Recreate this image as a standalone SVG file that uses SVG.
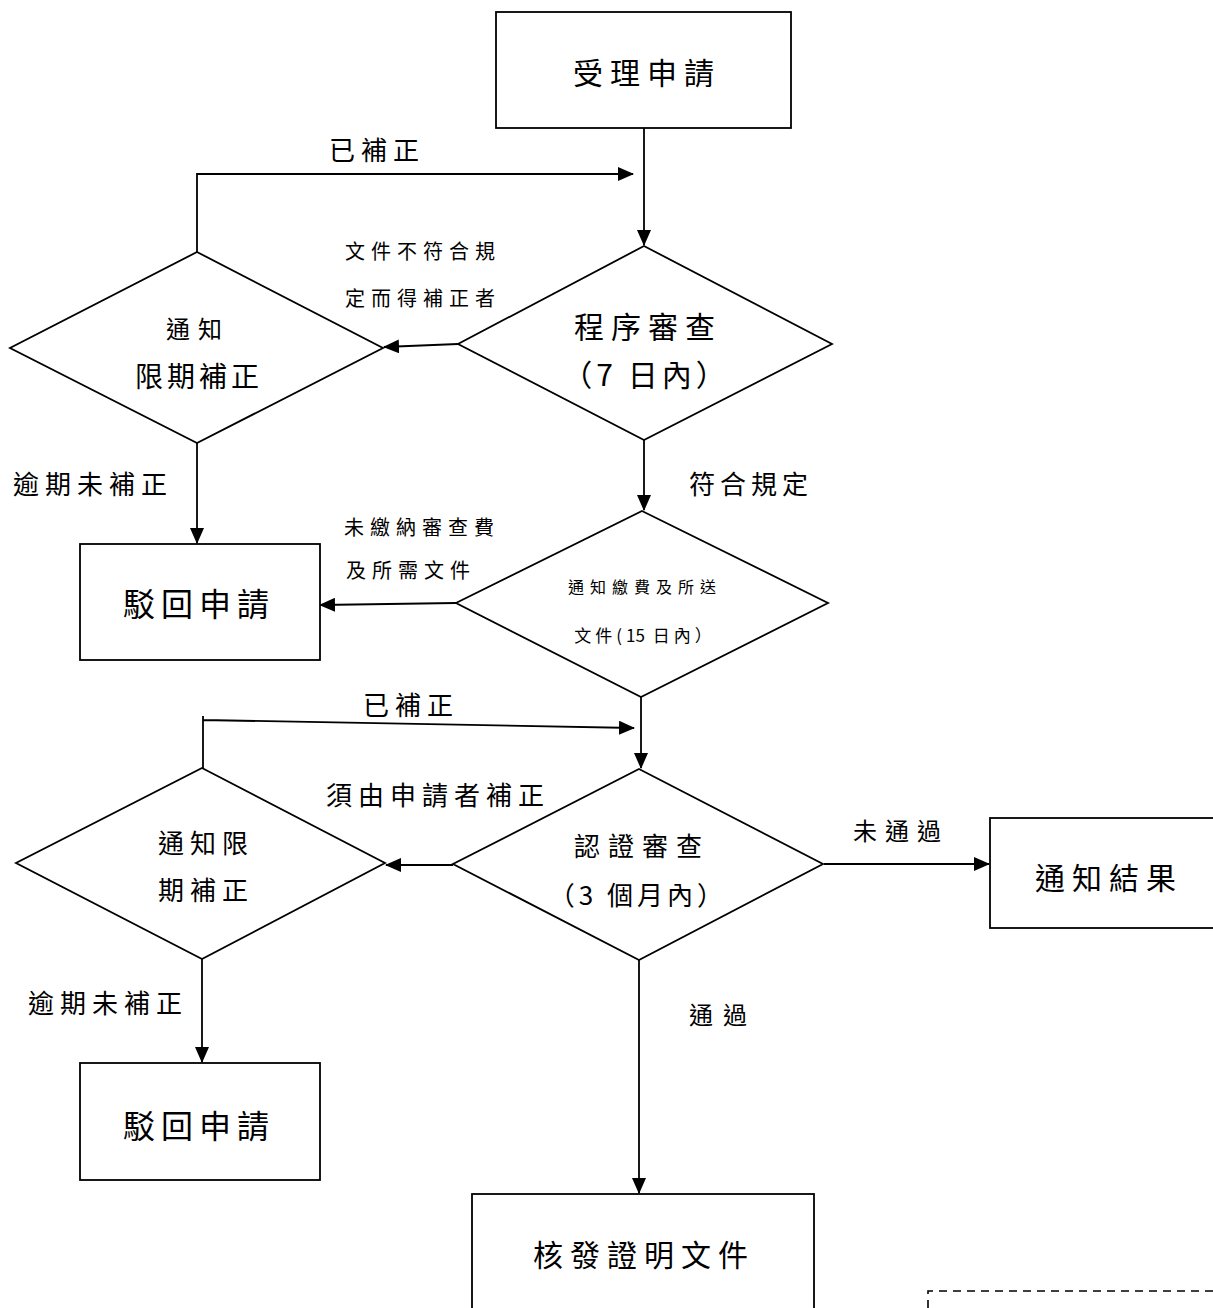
<svg xmlns="http://www.w3.org/2000/svg" width="1213" height="1308" viewBox="0 0 1213 1308">
<style>
.s{fill:#fff;stroke:#000;stroke-width:1.8}
.c{fill:none;stroke:#000;stroke-width:1.8}
text{font-family:"Noto Sans CJK TC","Noto Sans CJK SC",sans-serif;fill:#000;text-anchor:middle}
.t30{font-size:30px;letter-spacing:7px}
.t26{font-size:26px;letter-spacing:6px}
.t24{font-size:24px;letter-spacing:8px}
.t20{font-size:20px;letter-spacing:6px}
.t16{font-size:16px;letter-spacing:6px}
</style>
<defs>
<marker id="a" markerUnits="userSpaceOnUse" markerWidth="16" markerHeight="14" refX="15" refY="7" orient="auto">
<path d="M0,0 L16,7 L0,14 Z" fill="#000"/>
</marker>
</defs>
<rect x="0" y="0" width="1213" height="1308" fill="#fff"/>
<g id="connectors">
<path class="c" d="M644,128 L644,245" marker-end="url(#a)"/>
<path class="c" d="M197,252 L197,174 L633,174" marker-end="url(#a)"/>
<path class="c" d="M458,344 L384,347" marker-end="url(#a)"/>
<path class="c" d="M197,443 L197,543" marker-end="url(#a)"/>
<path class="c" d="M644,440 L644,510" marker-end="url(#a)"/>
<path class="c" d="M456,603 L320,605" marker-end="url(#a)"/>
<path class="c" d="M641,697 L641,768" marker-end="url(#a)"/>
<path class="c" d="M203,768 L203,716 L203,720 L634,728" marker-end="url(#a)"/>
<path class="c" d="M453,865 L386,865" marker-end="url(#a)"/>
<path class="c" d="M824,864 L989,864" marker-end="url(#a)"/>
<path class="c" d="M202,959 L202,1062" marker-end="url(#a)"/>
<path class="c" d="M639,960 L639,1193" marker-end="url(#a)"/>
</g>
<g id="n-accept"><rect class="s" x="496" y="12" width="295" height="116"/><text class="t30" x="647" y="84">受理申請</text></g>
<g id="n-review1"><path class="s" d="M644,246 L832,344 L644,440 L458,344 Z"/><text class="t30" x="648" y="338">程序審查</text><text class="t30" x="646" y="386" style="letter-spacing:4px">（7 日內）</text></g>
<g id="n-notify1"><path class="s" d="M197,252 L383,348 L197,443 L10,348 Z"/><text class="t24" x="198" y="338" style="letter-spacing:8px">通知</text><text class="t26" x="199" y="387" style="font-size:28px;letter-spacing:4px">限期補正</text></g>
<g id="n-reject1"><rect class="s" x="80" y="544" width="240" height="116"/><text class="t30" x="199" y="616" style="font-size:32px;letter-spacing:6px">駁回申請</text></g>
<g id="n-fee"><path class="s" d="M642,511 L828,603 L641,697 L456,603 Z"/><text class="t16" x="645" y="593">通知繳費及所送</text><text class="t16" x="645" y="642" style="font-size:17px;letter-spacing:4px">文件(<tspan style="letter-spacing:0">15</tspan> 日內）</text></g>
<g id="n-review2"><path class="s" d="M639,769 L823,864 L639,960 L453,864 Z"/><text class="t26" x="642" y="856" style="letter-spacing:8px">認證審查</text><text class="t26" x="638" y="905" style="letter-spacing:4px">（3 個月內）</text></g>
<g id="n-notify2"><path class="s" d="M202,768 L385,863 L202,959 L16,863 Z"/><text class="t26" x="206" y="853">通知限</text><text class="t26" x="206" y="900">期補正</text></g>
<g id="n-result"><rect class="s" x="990" y="818" width="240" height="110"/><text class="t30" x="1109" y="889">通知結果</text></g>
<g id="n-reject2"><rect class="s" x="80" y="1063" width="240" height="117"/><text class="t30" x="199" y="1138" style="font-size:32px;letter-spacing:6px">駁回申請</text></g>
<g id="n-issue"><rect class="s" x="472" y="1194" width="342" height="130"/><text class="t30" x="644" y="1266">核發證明文件</text></g>
<g id="labels">
<text class="t26" x="377" y="160">已補正</text>
<text class="t20" x="423" y="259">文件不符合規</text>
<text class="t20" x="423" y="306">定而得補正者</text>
<text class="t26" x="93" y="494">逾期未補正</text>
<text class="t26" x="751" y="494" style="letter-spacing:5px">符合規定</text>
<text class="t20" x="422" y="535">未繳納審查費</text>
<text class="t20" x="411" y="578">及所需文件</text>
<text class="t26" x="411" y="715">已補正</text>
<text class="t26" x="438" y="805">須由申請者補正</text>
<text class="t24" x="901" y="840">未通過</text>
<text class="t26" x="108" y="1013">逾期未補正</text>
<text class="t24" x="723" y="1024" style="letter-spacing:10px">通過</text>
</g>
<path id="dashed" d="M928,1308 L928,1291 L1220,1291" fill="none" stroke="#000" stroke-width="1.6" stroke-dasharray="8,6"/>
</svg>
